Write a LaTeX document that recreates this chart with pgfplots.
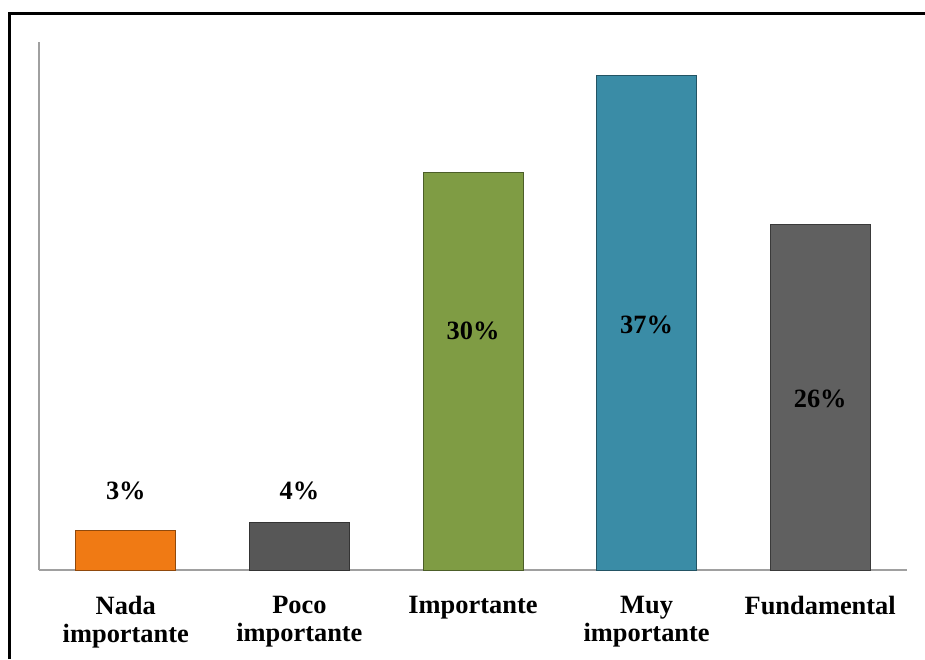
\documentclass[border=0pt]{standalone}
\usepackage{pgfplots}
\pgfplotsset{compat=1.18}
\usepackage{fontspec}
\setmainfont{Liberation Serif}
\definecolor{cOrange}{HTML}{F07A14}
\definecolor{cGray}{HTML}{575757}
\definecolor{cGreen}{HTML}{7F9C44}
\definecolor{cTeal}{HTML}{3A8CA6}
\definecolor{cGray2}{HTML}{606060}
\definecolor{axgray}{HTML}{A0A0A0}
\begin{document}
\begin{tikzpicture}
\path[use as bounding box] (0,0) rectangle (462.5pt,329.5pt);
\draw[line width=1.9pt, black] (4.75pt,0) -- (4.75pt,322.75pt) -- (462.5pt,322.75pt);
\begin{axis}[
  at={(19.5pt,44.5pt)}, anchor=south west,
  scale only axis, width=434pt, height=264pt,
  xmin=-0.5, xmax=4.5, ymin=0, ymax=40,
  axis x line*=bottom, axis y line*=left,
  axis line style={axgray, line width=0.8pt},
  x axis line style={-}, y axis line style={-},
  ytick=\empty,
  xtick={0,1,2,3,4},
  xticklabels={Nada\\importante, Poco\\importante, Importante, Muy\\importante, Fundamental},
  major tick length=0pt,
  xticklabel style={align=center, font=\bfseries\fontsize{13.2}{14}\selectfont, yshift=-9.5pt},
  ybar, bar width=50pt, bar shift=0pt,
  clip=false,
]
\addplot[fill=cOrange, draw=cOrange!60!black] coordinates {(0,3.0)};
\addplot[fill=cGray, draw=cGray!60!black] coordinates {(1,3.6)};
\addplot[fill=cGreen, draw=cGreen!60!black] coordinates {(2,30.1)};
\addplot[fill=cTeal, draw=cTeal!60!black] coordinates {(3,37.5)};
\addplot[fill=cGray2, draw=cGray2!60!black] coordinates {(4,26.2)};
\begin{scope}[every node/.style={font=\bfseries\fontsize{13.2}{14}\selectfont}]
\node at (axis cs:0,6.0) {3\%};
\node at (axis cs:1,6.0) {4\%};
\node at (axis cs:2,18.1) {30\%};
\node at (axis cs:3,18.6) {37\%};
\node at (axis cs:4,13.0) {26\%};
\end{scope}
\end{axis}
\end{tikzpicture}
\end{document}
